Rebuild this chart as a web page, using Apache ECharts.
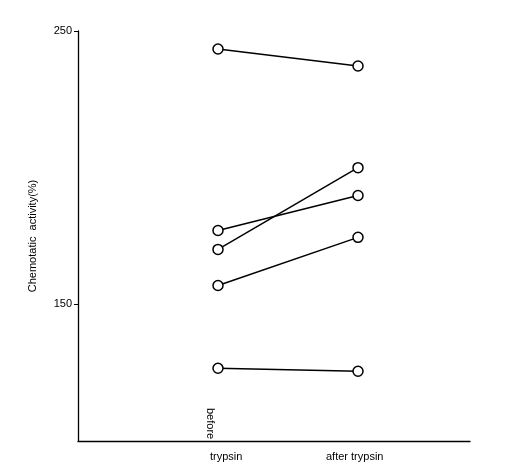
<!DOCTYPE html>
<html><head><meta charset="utf-8">
<script src="https://cdn.jsdelivr.net/npm/echarts@6/dist/echarts.min.js"></script>
<style>html,body{margin:0;padding:0;background:#fff}#c{width:514px;height:474px}</style>
</head><body><div id="c"></div>
<script>
var categories = ["before trypsin", "after trypsin"];
var subjectA = [243.4, 237.2];
var subjectB = [177, 189.8];
var subjectC = [170.1, 200];
var subjectD = [156.9, 174.5];
var subjectE = [126.6, 125.5];
var yTickValues = [150, 250];
var allSeries = [subjectA, subjectB, subjectC, subjectD, subjectE];
var chart = echarts.init(document.getElementById('c'));
chart.setOption({
  animation: false,
  grid: {left: 78, right: 44, top: 31, bottom: 33},
  xAxis: {type: 'value', min: 0, max: 2.8, splitLine: {show: false},
    axisLine: {lineStyle: {color: '#000', width: 1.3}}, axisTick: {show: false}, axisLabel: {show: false}},
  yAxis: {type: 'value', min: 100, max: 250, interval: 50, splitLine: {show: false},
    axisLine: {show: true, lineStyle: {color: '#000', width: 1.3}},
    axisTick: {show: true, length: 4, lineStyle: {color: '#000'}, customValues: yTickValues},
    axisLabel: {color: '#000', fontSize: 11, fontFamily: 'Liberation Sans', margin: 6, customValues: yTickValues},
    name: 'Chemotatic  activity(%)', nameLocation: 'middle', nameGap: 40,
    nameTextStyle: {color: '#000', fontSize: 11, fontFamily: 'Liberation Sans'}},
  graphic: [
    {type: 'text', left: 205, top: 408, rotation: -Math.PI/2, style: {text: 'before', font: '11px Liberation Sans', fill: '#000'}},
    {type: 'text', left: 210, top: 451, style: {text: 'trypsin', font: '11px Liberation Sans', fill: '#000'}},
    {type: 'text', left: 326, top: 451, style: {text: 'after trypsin', font: '11px Liberation Sans', fill: '#000'}}
  ],
  series: allSeries.map(function(s){
    return {type: 'line', data: s.map(function(v, i){return [i + 1, v];}),
      symbol: 'circle', symbolSize: 10, showSymbol: true,
      lineStyle: {color: '#000', width: 1.5},
      itemStyle: {color: '#fff', borderColor: '#000', borderWidth: 1.5}};
  })
});
</script></body></html>
